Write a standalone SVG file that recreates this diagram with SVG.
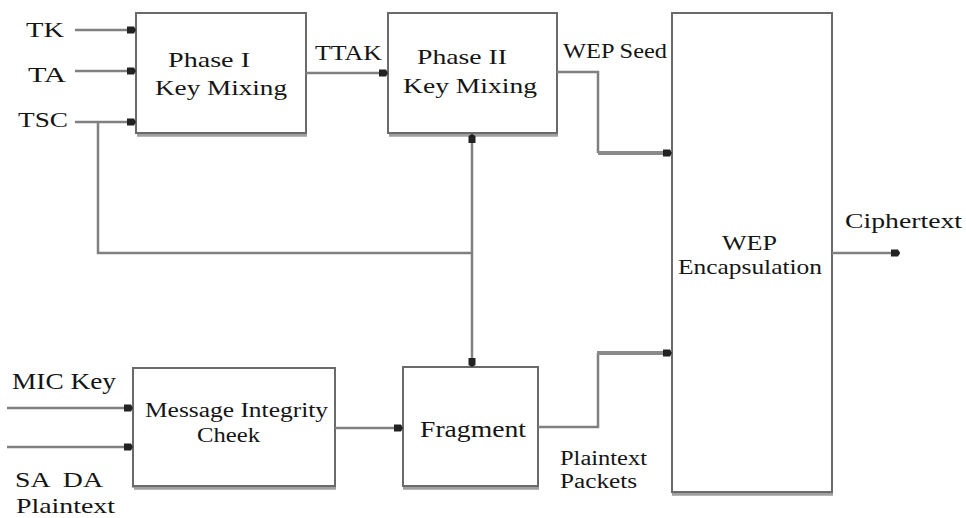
<svg xmlns="http://www.w3.org/2000/svg" width="966" height="518" viewBox="0 0 966 518" font-family="Liberation Serif, Times New Roman, DejaVu Serif, serif">
<style>
.box{fill:#fff;stroke:#6a6a6a;stroke-width:2}
.sh{stroke:#a0a0a0;stroke-width:3.5;fill:none}
.c{fill:none;stroke:#808080;stroke-width:2.5}
.ct{fill:none;stroke:#8a8a8a;stroke-width:4}
text{fill:#151515;font-size:22px}
.s{font-size:20px}
</style>
<defs>
<marker id="ah" markerUnits="userSpaceOnUse" markerWidth="12" markerHeight="10" refX="9" refY="5" orient="auto">
<path d="M0,1.5 L7,1.5 L9,5 L7,8.5 L0,8.5 z" fill="#222"/>
</marker>
</defs>
<rect width="966" height="518" fill="#fff"/>

<g id="phase1">
<line class="sh" x1="137" y1="135" x2="307" y2="135"/>
<rect class="box" x="136" y="13" width="170" height="120"/>
<text x="168" y="67" textLength="82" lengthAdjust="spacingAndGlyphs">Phase I</text>
<text x="155" y="95" textLength="132" lengthAdjust="spacingAndGlyphs">Key Mixing</text>
</g>

<g id="phase2">
<line class="sh" x1="389" y1="135" x2="558" y2="135"/>
<rect class="box" x="388" y="13" width="169" height="120"/>
<text x="417" y="64" textLength="90" lengthAdjust="spacingAndGlyphs">Phase II</text>
<text x="403" y="93" textLength="134" lengthAdjust="spacingAndGlyphs">Key Mixing</text>
</g>

<g id="wep">
<line class="sh" x1="672" y1="494" x2="833" y2="494"/>
<rect class="box" x="672" y="13" width="160" height="479"/>
<text x="722" y="250" textLength="55" lengthAdjust="spacingAndGlyphs">WEP</text>
<text x="678" y="274" textLength="144" lengthAdjust="spacingAndGlyphs">Encapsulation</text>
</g>

<g id="mic">
<line class="sh" x1="134" y1="488" x2="336" y2="488"/>
<line class="sh" x1="134" y1="368" x2="134" y2="488"/>
<rect class="box" x="133" y="368" width="202" height="118"/>
<text class="s" x="145" y="417" textLength="183" lengthAdjust="spacingAndGlyphs">Message Integrity</text>
<text x="197" y="442" textLength="63" lengthAdjust="spacingAndGlyphs">Cheek</text>
</g>

<g id="fragment">
<line class="sh" x1="403" y1="488" x2="539" y2="488"/>
<rect class="box" x="403" y="367" width="135" height="119"/>
<text x="420" y="437" style="font-size:23px" textLength="106" lengthAdjust="spacingAndGlyphs">Fragment</text>
</g>

<g id="labels">
<text x="26" y="37" textLength="38" lengthAdjust="spacingAndGlyphs">TK</text>
<text x="28" y="82" textLength="38" lengthAdjust="spacingAndGlyphs">TA</text>
<text x="18" y="127" textLength="50" lengthAdjust="spacingAndGlyphs">TSC</text>
<text x="315" y="60" textLength="67" lengthAdjust="spacingAndGlyphs">TTAK</text>
<text class="s" x="563" y="58" textLength="104" lengthAdjust="spacingAndGlyphs">WEP Seed</text>
<text x="12" y="389" style="font-size:23px" textLength="104" lengthAdjust="spacingAndGlyphs">MIC Key</text>
<text x="15" y="487" xml:space="preserve" textLength="88" lengthAdjust="spacingAndGlyphs">SA  DA</text>
<text x="16" y="513" textLength="99" lengthAdjust="spacingAndGlyphs">Plaintext</text>
<text class="s" x="560" y="465" textLength="87" lengthAdjust="spacingAndGlyphs">Plaintext</text>
<text class="s" x="560" y="488" textLength="77" lengthAdjust="spacingAndGlyphs">Packets</text>
<text x="845" y="228" textLength="117" lengthAdjust="spacingAndGlyphs">Ciphertext</text>
</g>

<g id="connectors">
<line class="c" x1="75" y1="30" x2="136" y2="30" marker-end="url(#ah)"/>
<line class="c" x1="75" y1="71" x2="136" y2="71" marker-end="url(#ah)"/>
<line class="c" x1="75" y1="122" x2="136" y2="122" marker-end="url(#ah)"/>
<line class="c" x1="306" y1="73" x2="388" y2="73" marker-end="url(#ah)"/>
<polyline class="c" points="98,122 98,253 472,253"/>
<line class="c" x1="472" y1="253" x2="472" y2="134" marker-end="url(#ah)"/>
<line class="c" x1="472" y1="253" x2="472" y2="367" marker-end="url(#ah)"/>
<polyline class="c" points="557,72 598,72 598,153"/>
<line class="ct" x1="598" y1="153" x2="672" y2="153" marker-end="url(#ah)"/>
<line class="c" x1="7" y1="408" x2="133" y2="408" marker-end="url(#ah)"/>
<line class="c" x1="7" y1="447" x2="133" y2="447" marker-end="url(#ah)"/>
<line class="c" x1="335" y1="428" x2="403" y2="428" marker-end="url(#ah)"/>
<polyline class="c" points="538,427 598,427 598,353"/>
<line class="ct" x1="597" y1="353" x2="672" y2="353" marker-end="url(#ah)"/>
<line class="c" x1="832" y1="253" x2="900" y2="253" marker-end="url(#ah)"/>
</g>
</svg>
